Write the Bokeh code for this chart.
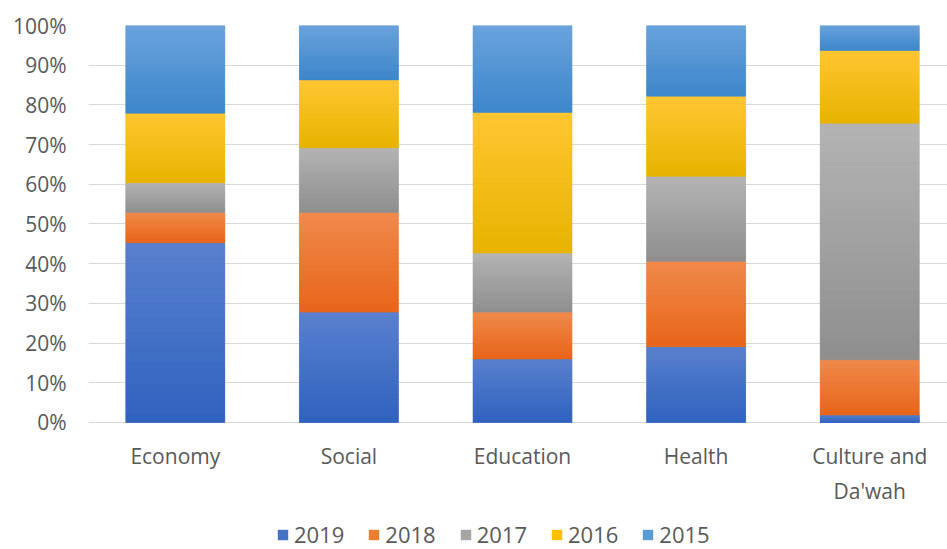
from bokeh.plotting import figure
from bokeh.models import Range1d, FixedTicker, PrintfTickFormatter, Legend, ColumnDataSource
from bokeh.core.properties import value
from bokeh.embed import file_html
from bokeh.resources import INLINE

categories = ["Economy", "Social", "Education", "Health", "Culture and\nDa'wah"]
years = ["2019", "2018", "2017", "2016", "2015"]
v2019 = [45.3, 27.8, 16.0, 19.1, 1.9]
v2018 = [7.6, 25.1, 11.8, 21.5, 13.9]
v2017 = [7.5, 16.3, 14.9, 21.4, 59.6]
v2016 = [17.5, 17.1, 35.4, 20.2, 18.3]
v2015 = [22.1, 13.7, 21.9, 17.8, 6.3]
y_ticks = [0, 10, 20, 30, 40, 50, 60, 70, 80, 90, 100]

colors = ["#4472C4", "#ED7D31", "#A5A5A5", "#FFC000", "#5B9BD5"]
grad_top = ["#5A80CE", "#F08A4B", "#B4B4B4", "#FFC633", "#6AA3DC"]
grad_bottom = ["#2F62BF", "#E8651A", "#8E8E8E", "#E8B400", "#3C86CB"]
FONT = "Open Sans"
TXT = "#595959"
BAR_W = 0.57
N_SLICES = 24

xpos = [i + 0.5 for i in range(len(categories))]
series = [v2019, v2018, v2017, v2016, v2015]
source = ColumnDataSource(dict(x=xpos, y2019=v2019, y2018=v2018, y2017=v2017, y2016=v2016,
                               y2015=v2015, label=categories, base=[0] * len(categories)))

p = figure(frame_width=859, frame_height=524, output_backend="svg", toolbar_location=None,
           x_range=Range1d(0, 4.948), y_range=Range1d(-32.0, 100))
p.min_border_left = 88
p.min_border_right = 0
p.min_border_top = 25
p.min_border_bottom = 0
p.outline_line_color = None
p.background_fill_color = "white"
p.border_fill_color = "white"

stackers = ["y2019", "y2018", "y2017", "y2016", "y2015"]
rs = p.vbar_stack(stackers, x="x", width=BAR_W, color=colors, line_color=None, source=source)


def hex2rgb(h):
    return tuple(int(h[i:i + 2], 16) for i in (1, 3, 5))


def mix(c1, c2, t):
    a, b = hex2rgb(c1), hex2rgb(c2)
    return "#%02x%02x%02x" % tuple(round(a[k] + (b[k] - a[k]) * t) for k in range(3))


# gradient shading of each stacked segment (Excel-style), built from the same data
L, R, B, T, C = [], [], [], [], []
for ci, xc in enumerate(xpos):
    base = 0.0
    for si, vals in enumerate(series):
        v = vals[ci]
        for k in range(N_SLICES):
            b = base + v * k / N_SLICES
            t = base + v * (k + 1) / N_SLICES
            L.append(xc - BAR_W / 2)
            R.append(xc + BAR_W / 2)
            B.append(b)
            T.append(t)
            C.append(mix(grad_bottom[si], grad_top[si], (k + 0.5) / N_SLICES))
        base += v
p.quad(left=L, right=R, bottom=B, top=T, fill_color=C, line_color=C, line_width=0.6)

p.text(x="x", y="base", text="label", source=source, text_align="center", text_baseline="top",
       y_offset=20, text_font=value(FONT), text_font_size="21px", text_color=TXT,
       text_line_height=1.25)

p.xgrid.grid_line_color = None
p.ygrid.grid_line_color = "#D9D9D9"
p.ygrid.grid_line_width = 1
p.ygrid.ticker = FixedTicker(ticks=y_ticks)

p.xaxis.visible = False
p.yaxis.ticker = FixedTicker(ticks=y_ticks)
p.yaxis.formatter = PrintfTickFormatter(format="%d%%")
ax = p.yaxis[0]
ax.axis_line_color = None
ax.major_tick_line_color = None
ax.minor_tick_line_color = None
ax.major_tick_out = 0
ax.major_tick_in = 0
ax.minor_tick_out = 0
ax.major_label_text_font = FONT
ax.major_label_text_font_size = "21px"
ax.major_label_text_color = TXT
ax.major_label_standoff = 22

legend = Legend(items=[(y, [r]) for y, r in zip(years, rs)], orientation="horizontal",
                location=(188, 0), glyph_width=13, glyph_height=13, label_standoff=5, spacing=23,
                label_height=13,
                label_text_font=FONT, label_text_font_size="22px", label_text_color=TXT,
                border_line_color=None, background_fill_alpha=0, padding=0, margin=0)
p.add_layout(legend, "center")

open("out.html", "w").write(file_html(p, INLINE))
